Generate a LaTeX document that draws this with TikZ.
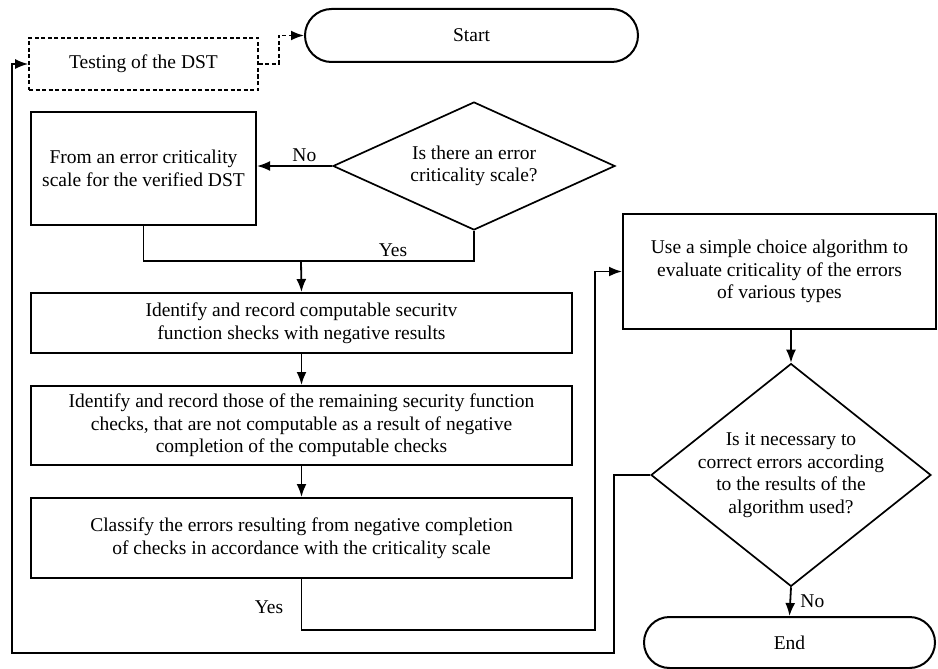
\documentclass[tikz,border=0pt]{standalone}
\usepackage{fontspec}
\setmainfont{Liberation Serif}
\usetikzlibrary{shapes.geometric,shapes.misc,arrows.meta}

\tikzset{
  blk/.style={draw, line width=2pt, align=center, inner sep=2pt},
  term/.style={draw, line width=2pt, rounded rectangle, inner sep=2pt},
  dec/.style={draw, line width=1.7pt, diamond, align=center, inner sep=-12pt},
  lnk/.style={line width=1.8pt},
  dsh/.style={dash pattern=on 4pt off 2.5pt}
}

\begin{document}
\begin{tikzpicture}[x=1pt, y=-1pt, >={Latex[length=13pt,width=10pt]},
    font=\fontsize{19.5}{22.5}\selectfont]
  \useasboundingbox (0,0) rectangle (938,669);

  % nodes
  \node[term, minimum width=337pt, minimum height=53pt] (start) at (471.5,35.5) {Start};
  \node[blk, dsh, line width=1.6pt, minimum width=229pt, minimum height=52pt] (test) at (143.5,64) {Testing of the DST};
  \node[dec, minimum width=282pt, minimum height=128pt] (q1) at (474,166) {Is there an error\\criticality scale?};
  \node[blk, minimum width=225pt, minimum height=113pt] (mkscale) at (143.5,168.5) {From an error criticality\\scale for the verified DST};
  \node[blk, minimum width=541pt, minimum height=60pt] (comp) at (301.5,323) {Identify and record computable securitv\\function shecks with negative results};
  \node[blk, minimum width=541pt, minimum height=79pt] (rest) at (301.5,425.5) {Identify and record those of the remaining security function\\checks, that are not computable as a result of negative\\completion of the computable checks};
  \node[blk, minimum width=541pt, minimum height=80pt] (cls) at (301.5,538) {Classify the errors resulting from negative completion\\of checks in accordance with the criticality scale};
  \node[blk, minimum width=313pt, minimum height=115pt] (algo) at (779.5,271.5) {Use a simple choice algorithm to\\evaluate criticality of the errors\\of various types};
  \node[dec, minimum width=280pt, minimum height=222pt] (q2) at (791,475) {Is it necessary to\\correct errors according\\to the results of the\\algorithm used?};
  \node[term, minimum width=295pt, minimum height=51pt] (end) at (789.5,642.5) {End};

  \coordinate (yesj) at (301,261);
  \coordinate (loopa) at (595,630);
  \coordinate (cornR) at (614,653);
  \coordinate (cornL) at (12,653);

  % connectors
  \draw[lnk, dsh, ->] (test.east) -- ++(20,0) |- (start.west);
  \draw[lnk, ->] (q1.west) -- (q1.west -| mkscale.east) node[pos=0.37, above] {No};
  \draw[lnk] (mkscale.south) |- (q1.south |- yesj) -- (q1.south);
  \node (yes1) at (393,250) {Yes};
  \draw[lnk, ->] (yesj) -- (comp.north);
  \draw[lnk, ->] (comp) -- (rest);
  \draw[lnk, ->] (rest) -- (cls);
  \draw[lnk, ->] (cls.south) |- (loopa) |- (algo.west);
  \node (yes2) at (269,607) {Yes};
  \draw[lnk, ->] (q2.north |- algo.south) -- (q2.north);
  \draw[lnk, ->] (q2.south) -- (end.north) node[midway, right, xshift=6pt] {No};
  \draw[lnk, ->] (q2.west) -| (cornR) -- (cornL) |- (test.west);
\end{tikzpicture}
\end{document}
